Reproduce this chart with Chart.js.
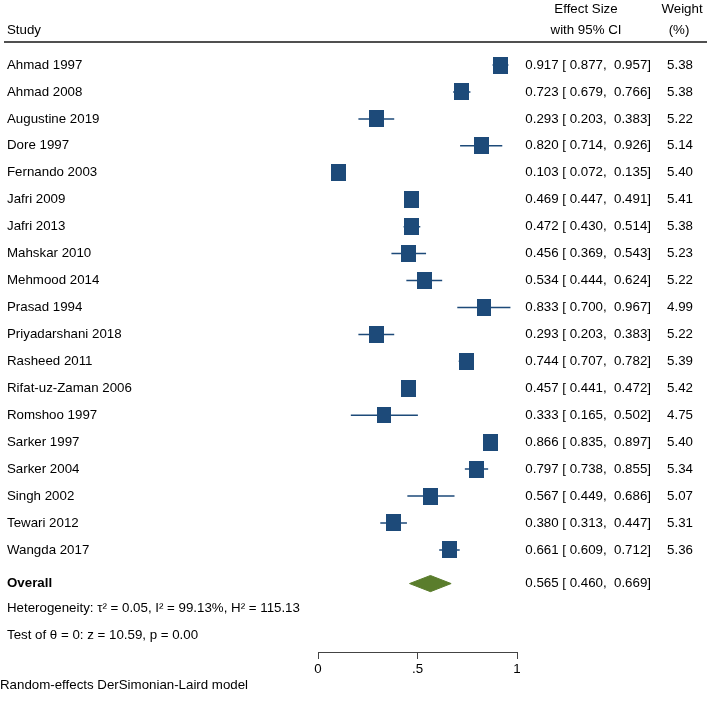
<!DOCTYPE html>
<html>
<head>
<meta charset="utf-8">
<script src="https://cdn.jsdelivr.net/npm/chart.js@4.4.0/dist/chart.umd.min.js"></script>
<style>
  body { margin: 0; background: #fff; }
  canvas { display: block; }
</style>
</head>
<body>
<canvas id="forest" width="709" height="702"></canvas>
<script>
// study data
var studies = ['Ahmad 1997', 'Ahmad 2008', 'Augustine 2019', 'Dore 1997', 'Fernando 2003',
    'Jafri 2009', 'Jafri 2013', 'Mahskar 2010', 'Mehmood 2014', 'Prasad 1994',
    'Priyadarshani 2018', 'Rasheed 2011', 'Rifat-uz-Zaman 2006', 'Romshoo 1997', 'Sarker 1997',
    'Sarker 2004', 'Singh 2002', 'Tewari 2012', 'Wangda 2017'];
var effect = [0.917, 0.723, 0.293, 0.820, 0.103, 0.469, 0.472, 0.456, 0.534, 0.833,
    0.293, 0.744, 0.457, 0.333, 0.866, 0.797, 0.567, 0.380, 0.661];
var ciLow = [0.877, 0.679, 0.203, 0.714, 0.072, 0.447, 0.430, 0.369, 0.444, 0.700,
    0.203, 0.707, 0.441, 0.165, 0.835, 0.738, 0.449, 0.313, 0.609];
var ciHigh = [0.957, 0.766, 0.383, 0.926, 0.135, 0.491, 0.514, 0.543, 0.624, 0.967,
    0.383, 0.782, 0.472, 0.502, 0.897, 0.855, 0.686, 0.447, 0.712];
var weights = [5.38, 5.38, 5.22, 5.14, 5.40, 5.41, 5.38, 5.23, 5.22, 4.99,
    5.22, 5.39, 5.42, 4.75, 5.40, 5.34, 5.07, 5.31, 5.36];
var overall = [0.565, 0.460, 0.669];
var xTicks = [0, 0.5, 1];
var xTickLabels = ['0', '.5', '1'];
var heterogeneity = 'Heterogeneity: \u03C4\u00B2 = 0.05, I\u00B2 = 99.13%, H\u00B2 = 115.13';
var testLine = 'Test of \u03B8 = 0: z = 10.59, p = 0.00';
var modelNote = 'Random-effects DerSimonian-Laird model';

var FONT = '13.3px "Liberation Sans", Arial, sans-serif';
var BLUE = '#1d4a79';
var GREEN = '#5a7d2c';
var overallRow = 19.25;

// box marker, area proportional to weight
function makeBox(w) {
    var s = Math.sqrt(w / 5.38);
    var c = document.createElement('canvas');
    c.width = Math.round(15 * s);
    c.height = Math.round(17.4 * s);
    var g = c.getContext('2d');
    g.fillStyle = BLUE;
    g.fillRect(0, 0, c.width, c.height);
    return c;
}

var boxes = weights.map(makeBox);

var ciData = [];
studies.forEach(function (s, i) {
    ciData.push({ x: ciLow[i], y: i });
    ciData.push({ x: ciHigh[i], y: i });
    ciData.push({ x: null, y: null });
});

var pointData = studies.map(function (s, i) {
    return { x: effect[i], y: i };
});

var dh = 0.3;
var diamondData = [
    { x: overall[1], y: overallRow },
    { x: overall[0], y: overallRow - dh },
    { x: overall[2], y: overallRow },
    { x: overall[0], y: overallRow + dh },
    { x: overall[1], y: overallRow }
];

function fmt(es, lo, hi) {
    return es.toFixed(3) + ' [ ' + lo.toFixed(3) + ',  ' + hi.toFixed(3) + ']';
}

var textPlugin = {
    id: 'forestText',
    afterDraw: function (chart) {
        var ctx = chart.ctx;
        var y = chart.scales.y;
        ctx.save();
        ctx.fillStyle = '#000';
        ctx.font = FONT;
        ctx.textBaseline = 'middle';

        // header
        ctx.textAlign = 'left';
        ctx.fillText('Study', 7, 30);
        ctx.textAlign = 'center';
        ctx.fillText('Effect Size', 586, 9);
        ctx.fillText('with 95% CI', 586, 30);
        ctx.fillText('Weight', 682, 9);
        ctx.fillText('(%)', 679, 30);

        ctx.strokeStyle = '#505050';
        ctx.lineWidth = 2;
        ctx.beginPath();
        ctx.moveTo(4, 42);
        ctx.lineTo(707, 42);
        ctx.stroke();

        // rows
        studies.forEach(function (s, i) {
            var py = y.getPixelForValue(i);
            ctx.textAlign = 'left';
            ctx.fillText(s, 7, py);
            ctx.textAlign = 'right';
            ctx.fillText(fmt(effect[i], ciLow[i], ciHigh[i]), 651, py);
            ctx.fillText(weights[i].toFixed(2), 693, py);
        });

        var oy = y.getPixelForValue(overallRow);
        ctx.textAlign = 'right';
        ctx.fillText(fmt(overall[0], overall[1], overall[2]), 651, oy);
        ctx.textAlign = 'left';
        ctx.font = 'bold ' + FONT;
        ctx.fillText('Overall', 7, oy);
        ctx.font = FONT;
        ctx.fillText(heterogeneity, 7, 608);
        ctx.fillText(testLine, 7, 635);
        ctx.fillText(modelNote, 0, 685);
        ctx.restore();
    }
};

var ctx = document.getElementById('forest').getContext('2d');
var forestChart = new Chart(ctx, {
    type: 'scatter',
    data: {
        datasets: [
            {
                data: ciData,
                showLine: true,
                spanGaps: false,
                borderColor: BLUE,
                borderWidth: 1.5,
                pointRadius: 0,
                order: 3
            },
            {
                data: pointData,
                pointStyle: function (c) { return boxes[c.dataIndex]; },
                pointRadius: 8,
                order: 1
            },
            {
                data: diamondData,
                showLine: true,
                fill: 'shape',
                backgroundColor: GREEN,
                borderColor: GREEN,
                borderWidth: 1,
                pointRadius: 0,
                order: 2
            }
        ]
    },
    options: {
        responsive: false,
        animation: false,
        events: [],
        layout: { padding: { left: 318, right: 192, top: 42, bottom: 0 } },
        plugins: { legend: { display: false }, tooltip: { enabled: false } },
        scales: {
            x: {
                min: 0,
                max: 1,
                afterBuildTicks: function (s) {
                    s.ticks = xTicks.map(function (v) { return { value: v }; });
                },
                afterFit: function (s) { s.height = 50; },
                border: { display: true, color: '#444', width: 1 },
                grid: { drawOnChartArea: false, drawTicks: true, tickLength: 7, color: '#444' },
                ticks: {
                    color: '#000',
                    font: { family: '"Liberation Sans", Arial, sans-serif', size: 13.3 },
                    padding: 2,
                    maxRotation: 0,
                    callback: function (v, i) { return xTickLabels[i]; }
                }
            },
            y: {
                display: false,
                reverse: true,
                min: -0.854,
                max: 21.79
            }
        }
    },
    plugins: [textPlugin]
});
</script>
</body>
</html>
